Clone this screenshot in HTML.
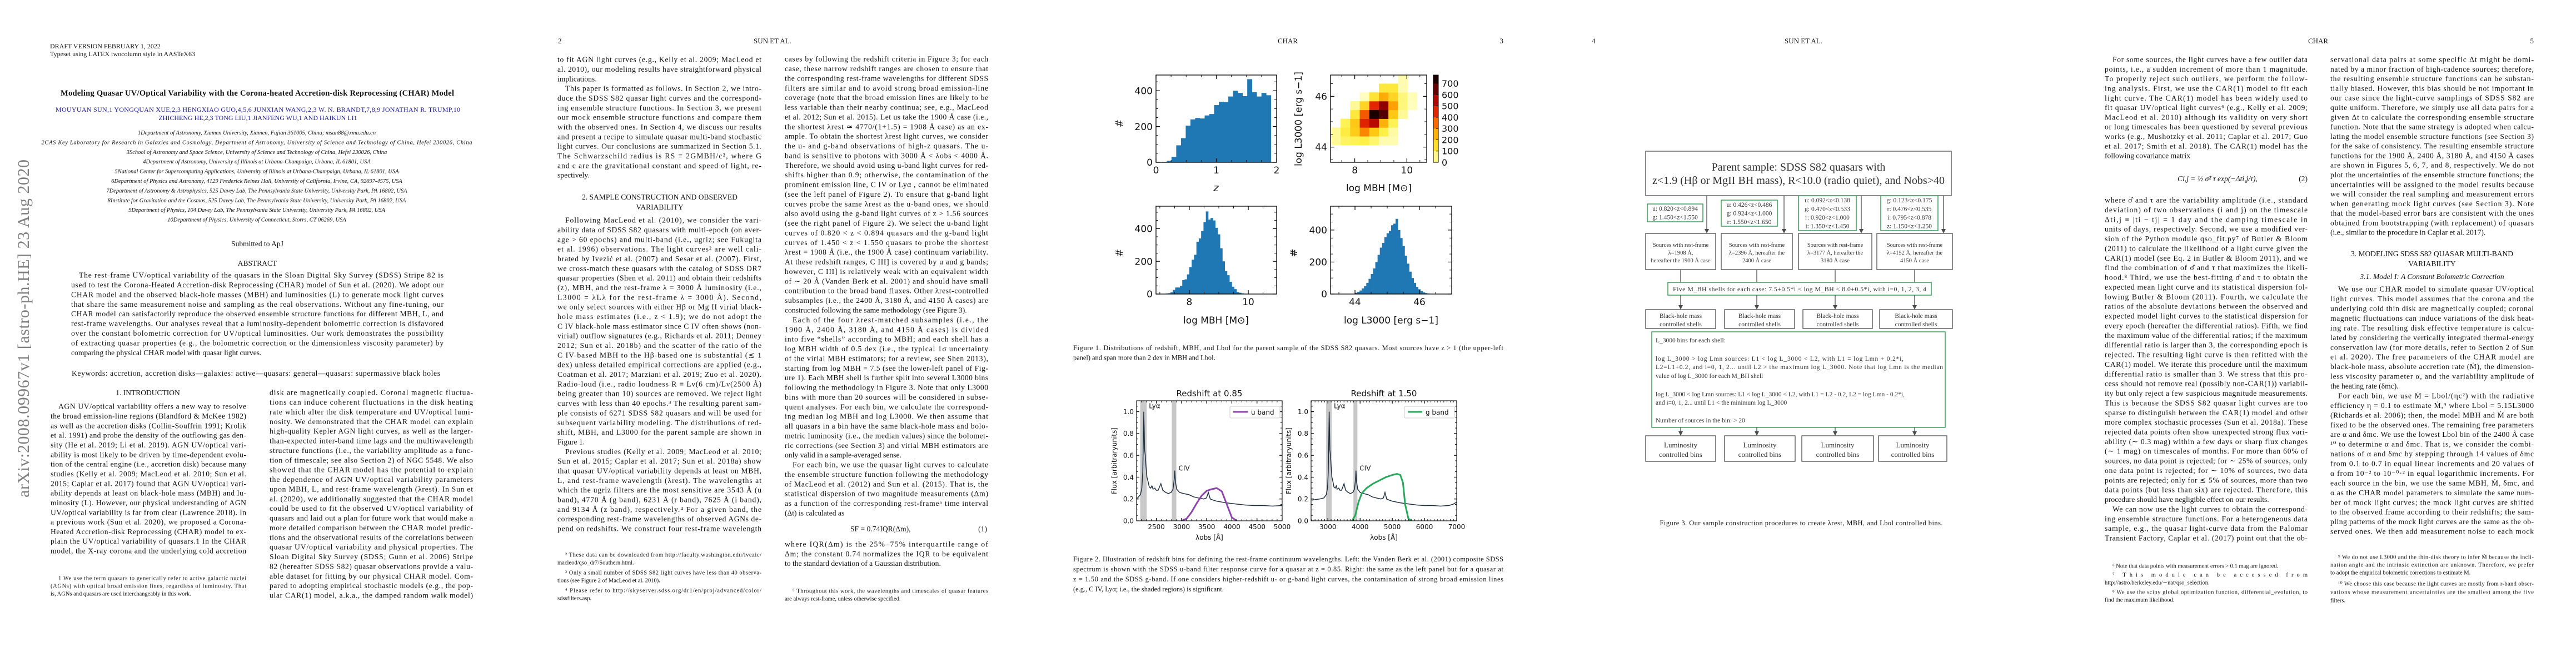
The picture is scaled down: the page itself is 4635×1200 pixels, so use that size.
<!DOCTYPE html>
<html><head><meta charset="utf-8"><title>CHAR paper pages</title>
<style>
html,body{margin:0;padding:0;background:#fff;}
svg{display:block;}
</style></head>
<body>
<svg id="page" xmlns="http://www.w3.org/2000/svg" width="4635" height="1200" viewBox="0 0 4635 1200">
<rect x="0" y="0" width="4635" height="1200" fill="#fff"/>
<defs>
<linearGradient id="cbar" x1="0" y1="1" x2="0" y2="0">
<stop offset="0" stop-color="#ffffcc"/><stop offset="0.15" stop-color="#ffed3c"/><stop offset="0.3" stop-color="#ffbe00"/><stop offset="0.45" stop-color="#ff6e00"/><stop offset="0.6" stop-color="#e61400"/><stop offset="0.8" stop-color="#8c0000"/><stop offset="1" stop-color="#140000"/>
</linearGradient>
</defs>
</svg>
<script>
// ---------- Figure 1 data ----------
const zStart = 0.1;
const zWidth = 0.0785;
const zCounts = [3,8,30,95,135,205,240,248,245,262,270,320,338,336,368,400,388,370,465,392,368,388,375];
const mbhStart = 7.2;
const mbhWidth = 0.08;
const mbhCounts = [3,5,10,25,40,40,50,85,90,120,165,210,240,320,340,385,440,505,455,465,450,405,365,280,200,140,115,75,45,30,12,8,4,2,1];
const lStart = 44.0;
const lWidth = 0.07;
const lCounts = [8,14,22,35,50,70,95,125,160,200,245,290,320,355,380,395,430,440,470,400,350,300,240,190,140,100,70,45,30,18,10,6,3,2];
const h2XStart = 7.09;
const h2XWidth = 0.367;
const h2YStart = 44.08;
const h2YWidth = 0.346;
const h2Counts = [
 [40,80,90,100,70,20,20,0,0],
 [40,110,190,320,200,100,30,0,0],
 [0,90,200,460,540,250,90,0,0],
 [0,0,120,370,750,680,200,40,0],
 [0,0,40,170,450,600,280,60,10],
 [0,0,0,10,130,260,170,60,15],
 [0,0,0,0,0,120,120,20,0],
 [0,0,0,0,0,0,0,20,0]
];
const cbarTicks = [0,100,200,300,400,500,600,700];
// ---------- Figure 2 data ----------
const specWave = [1000,1100,1150,1180,1195,1205,1211,1216,1220,1225,1232,1240,1250,1262,1275,1290,1304,1315,1335,1350,1370,1400,1420,1450,1480,1510,1530,1543,1549,1556,1570,1600,1640,1700,1750,1800,1860,1890,1909,1930,1960,2000,2100,2200,2300,2400,2500,2600,2700,2750,2798,2850];
const specFlux = [0.19,0.20,0.21,0.24,0.30,0.45,0.75,1.0,0.85,0.65,0.6,0.5,0.4,0.36,0.31,0.30,0.32,0.29,0.30,0.28,0.28,0.34,0.28,0.26,0.25,0.26,0.29,0.38,0.46,0.36,0.29,0.26,0.25,0.24,0.22,0.21,0.20,0.21,0.26,0.20,0.19,0.18,0.165,0.155,0.145,0.14,0.14,0.135,0.14,0.15,0.17,0.15];
const uWave = [3000,3100,3200,3300,3400,3500,3600,3700,3800,3900,4000,4100];
const uResp = [0,0.02,0.08,0.16,0.23,0.275,0.29,0.30,0.27,0.15,0.03,0];
const gWave = [3750,3850,3950,4050,4200,4400,4600,4800,5000,5150,5250,5330,5400,5500,5600];
const gResp = [0,0.05,0.17,0.25,0.30,0.34,0.37,0.40,0.42,0.43,0.42,0.35,0.15,0.02,0];
const lyaRange = [1178,1247];
const civRange = [1517,1566];
const specYTicks = [0.0,0.2,0.4,0.6,0.8,1.0];
const leftXTicks = [2500,3000,3500,4000,4500,5000];
const rightXTicks = [3000,4000,5000,6000,7000];

const NS = 'http://www.w3.org/2000/svg';
const root = document.getElementById('page');
const SERIF = '"Liberation Serif", "DejaVu Serif", serif';
const SANS = '"DejaVu Sans", "Liberation Sans", sans-serif';

function el(tag, parent){ const e = document.createElementNS(NS, tag); (parent||root).appendChild(e); return e; }
function grp(name, parent){
  const g = el('g', parent);
  
  
  return g;
}
function T(parent, x, y, s, size, name, o){
  o = o || {};
  const t = el('text', parent);
  
  
  t.setAttribute('x', x); t.setAttribute('y', y);
  t.setAttribute('font-size', size);
  t.setAttribute('font-family', o.font || SERIF);
  t.setAttribute('fill', o.fill || '#111');
  if (o.anchor) t.setAttribute('text-anchor', o.anchor);
  if (o.weight) t.setAttribute('font-weight', o.weight);
  if (o.style) t.setAttribute('font-style', o.style);
  if (o.sc) t.setAttribute('font-variant', 'small-caps');
  if (o.len) { t.setAttribute('textLength', o.len); t.setAttribute('lengthAdjust', 'spacing'); }
  if (o.rot) t.setAttribute('transform', 'rotate(' + o.rot + ' ' + x + ' ' + y + ')');
  t.textContent = s;
  return t;
}
function line(parent, x1, y1, x2, y2, stroke, w, name){
  const l = el('line', parent);
  
  
  l.setAttribute('x1', x1); l.setAttribute('y1', y1); l.setAttribute('x2', x2); l.setAttribute('y2', y2);
  l.setAttribute('stroke', stroke); l.setAttribute('stroke-width', w);
  return l;
}
function rect(parent, x, y, w, h, fill, stroke, sw, name){
  const r = el('rect', parent);
  
  
  r.setAttribute('x', x); r.setAttribute('y', y); r.setAttribute('width', w); r.setAttribute('height', h);
  r.setAttribute('fill', fill); if (stroke) { r.setAttribute('stroke', stroke); r.setAttribute('stroke-width', sw); }
  return r;
}
function column(parent, x, y0, w, lh, lines, size, name){
  const g = grp(name, parent);
  lines.forEach((ln, i) => {
    let ind = 0, last = false, s = ln;
    if (s.startsWith('>')) { ind = 14; s = s.slice(1); }
    if (s.endsWith('|')) { last = true; s = s.slice(0, -1); }
    const o = last ? {} : { len: w - ind };
    T(g, x + ind, y0 + i * lh + size * 0.34, s, size, 'text-line', o);
  });
  return g;
}

// ================= PAGE 1 =================
const p1 = grp('page-1');
T(p1, 90, 87, 'DRAFT VERSION FEBRUARY 1, 2022', 12, 'draft-header', {sc:true});
T(p1, 90, 101, 'Typeset using LATEX twocolumn style in AASTeX63', 12, 'typeset-note');
T(p1, 463, 172, 'Modeling Quasar UV/Optical Variability with the Corona-heated Accretion-disk Reprocessing (CHAR) Model', 14.5, 'paper-title', {anchor:'middle', weight:'bold', len:708});
T(p1, 464, 201, 'MOUYUAN SUN,1 YONGQUAN XUE,2,3 HENGXIAO GUO,4,5,6 JUNXIAN WANG,2,3 W. N. BRANDT,7,8,9 JONATHAN R. TRUMP,10', 12, 'author-list', {anchor:'middle', fill:'#1a1a9a', len:728});
T(p1, 464, 216, 'ZHICHENG HE,2,3 TONG LIU,1 JIANFENG WU,1 AND HAIKUN LI1', 12, 'author-list', {anchor:'middle', fill:'#1a1a9a'});
const affs = [
'1Department of Astronomy, Xiamen University, Xiamen, Fujian 361005, China; msun88@xmu.edu.cn',
'2CAS Key Laboratory for Research in Galaxies and Cosmology, Department of Astronomy, University of Science and Technology of China, Hefei 230026, China',
'3School of Astronomy and Space Science, University of Science and Technology of China, Hefei 230026, China',
'4Department of Astronomy, University of Illinois at Urbana-Champaign, Urbana, IL 61801, USA',
'5National Center for Supercomputing Applications, University of Illinois at Urbana-Champaign, Urbana, IL 61801, USA',
'6Department of Physics and Astronomy, 4129 Frederick Reines Hall, University of California, Irvine, CA, 92697-4575, USA',
'7Department of Astronomy & Astrophysics, 525 Davey Lab, The Pennsylvania State University, University Park, PA 16802, USA',
'8Institute for Gravitation and the Cosmos, 525 Davey Lab, The Pennsylvania State University, University Park, PA 16802, USA',
'9Department of Physics, 104 Davey Lab, The Pennsylvania State University, University Park, PA 16802, USA',
'10Department of Physics, University of Connecticut, Storrs, CT 06269, USA'];
const affG = grp('affiliations', p1);
affs.forEach((a, i) => { T(affG, 462, 242 + i * 17.4, a, 10.5, 'affiliation', {anchor:'middle', style:'italic', len: i===1 ? 775 : undefined}); });
T(p1, 463, 443, 'Submitted to ApJ', 13.5, 'submitted-note', {anchor:'middle'});
T(p1, 463, 478, 'ABSTRACT', 13.5, 'abstract-heading', {anchor:'middle'});
column(p1, 128, 495, 670, 17.4, [
'>The rest-frame UV/optical variability of the quasars in the Sloan Digital Sky Survey (SDSS) Stripe 82 is',
'used to test the Corona-Heated Accretion-disk Reprocessing (CHAR) model of Sun et al. (2020). We adopt our',
'CHAR model and the observed black-hole masses (MBH) and luminosities (L) to generate mock light curves',
'that share the same measurement noise and sampling as the real observations. Without any fine-tuning, our',
'CHAR model can satisfactorily reproduce the observed ensemble structure functions for different MBH, L, and',
'rest-frame wavelengths. Our analyses reveal that a luminosity-dependent bolometric correction is disfavored',
'over the constant bolometric correction for UV/optical luminosities. Our work demonstrates the possibility',
'of extracting quasar properties (e.g., the bolometric correction or the dimensionless viscosity parameter) by',
'comparing the physical CHAR model with quasar light curves.|'], 13.6, 'abstract-text');
T(p1, 129, 676, 'Keywords: accretion, accretion disks—galaxies: active—quasars: general—quasars: supermassive black holes', 13.6, 'keywords', {len:663});
T(p1, 266, 711, '1. INTRODUCTION', 13.5, 'section-heading', {anchor:'middle'});
column(p1, 91, 731, 352, 17.33, [
'>AGN UV/optical variability offers a new way to resolve',
'the broad emission-line regions (Blandford & McKee 1982)',
'as well as the accretion disks (Collin-Souffrin 1991; Krolik',
'et al. 1991) and probe the density of the outflowing gas den-',
'sity (He et al. 2019; Li et al. 2019). AGN UV/optical vari-',
'ability is most likely to be driven by time-dependent evolu-',
'tion of the central engine (i.e., accretion disk) because many',
'studies (Kelly et al. 2009; MacLeod et al. 2010; Sun et al.',
'2015; Caplar et al. 2017) found that AGN UV/optical vari-',
'ability depends at least on black-hole mass (MBH) and lu-',
'minosity (L). However, our physical understanding of AGN',
'UV/optical variability is far from clear (Lawrence 2018). In',
'a previous work (Sun et al. 2020), we proposed a Corona-',
'Heated Accretion-disk Reprocessing (CHAR) model to ex-',
'plain the UV/optical variability of quasars.1 In the CHAR',
'model, the X-ray corona and the underlying cold accretion'], 13.6, 'intro-left-column');
column(p1, 91, 1040, 352, 14, [
'>1 We use the term quasars to generically refer to active galactic nuclei',
'(AGNs) with optical broad emission lines, regardless of luminosity. That',
'is, AGNs and quasars are used interchangeably in this work.|'], 10.5, 'footnote-1');
column(p1, 485, 706, 366, 17.38, [
'disk are magnetically coupled. Coronal magnetic fluctua-',
'tions can induce coherent fluctuations in the disk heating',
'rate which alter the disk temperature and UV/optical lumi-',
'nosity. We demonstrated that the CHAR model can explain',
'high-quality Kepler AGN light curves, as well as the larger-',
'than-expected inter-band time lags and the multiwavelength',
'structure functions (i.e., the variability amplitude as a func-',
'tion of timescale; see also Section 2) of NGC 5548. We also',
'showed that the CHAR model has the potential to explain',
'the dependence of AGN UV/optical variability parameters',
'upon MBH, L, and rest-frame wavelength (λrest). In Sun et',
'al. (2020), we additionally suggested that the CHAR model',
'could be used to fit the observed UV/optical variability of',
'quasars and laid out a plan for future work that would make a',
'more detailed comparison between the CHAR model predic-',
'tions and the observational results of the correlations between',
'quasar UV/optical variability and physical properties. The',
'Sloan Digital Sky Survey (SDSS; Gunn et al. 2006) Stripe',
'82 (hereafter SDSS S82) quasar observations provide a valu-',
'able dataset for fitting by our physical CHAR model. Com-',
'pared to adopting empirical stochastic models (e.g., the pop-',
'ular CAR(1) model, a.k.a., the damped random walk model)'], 13.6, 'intro-right-column');
T(p1, 52, 895, 'arXiv:2008.09967v1  [astro-ph.HE]  23 Aug 2020', 30, 'arxiv-stamp', {rot:-90, fill:'#808080', len:608});

// ================= PAGE 2 =================
const p2 = grp('page-2');
T(p2, 1004, 78, '2', 13, 'page-number');
T(p2, 1390, 78, 'SUN ET AL.', 13, 'running-head', {anchor:'middle', sc:true});
column(p2, 1003, 107, 367, 17.33, [
'to fit AGN light curves (e.g., Kelly et al. 2009; MacLeod et',
'al. 2010), our modeling results have straightforward physical',
'implications.|',
'>This paper is formatted as follows. In Section 2, we intro-',
'duce the SDSS S82 quasar light curves and the correspond-',
'ing ensemble structure functions. In Section 3, we present',
'our mock ensemble structure functions and compare them',
'with the observed ones. In Section 4, we discuss our results',
'and present a recipe to simulate quasar multi-band stochastic',
'light curves. Our conclusions are summarized in Section 5.1.',
'The Schwarzschild radius is RS ≡ 2GMBH/c², where G',
'and c are the gravitational constant and speed of light, re-',
'spectively.|'], 13.6, 'page2-left-top');
T(p2, 1187, 359, '2. SAMPLE CONSTRUCTION AND OBSERVED', 13.5, 'section-heading', {anchor:'middle'});
T(p2, 1187, 377, 'VARIABILITY', 13.5, 'section-heading', {anchor:'middle'});
column(p2, 1003, 396, 367, 17.34, [
'>Following MacLeod et al. (2010), we consider the vari-',
'ability data of SDSS S82 quasars with multi-epoch (on aver-',
'age > 60 epochs) and multi-band (i.e., ugriz; see Fukugita',
'et al. 1996) observations. The light curves² are well cali-',
'brated by Ivezić et al. (2007) and Sesar et al. (2007). First,',
'we cross-match these quasars with the catalog of SDSS DR7',
'quasar properties (Shen et al. 2011) and obtain their redshifts',
'(z), MBH, and the rest-frame λ = 3000 Å luminosity (i.e.,',
'L3000 = λLλ for the rest-frame λ = 3000 Å). Second,',
'we only select sources with either Hβ or Mg II virial black-',
'hole mass estimates (i.e., z < 1.9); we do not adopt the',
'C IV black-hole mass estimator since C IV often shows (non-',
'virial) outflow signatures (e.g., Richards et al. 2011; Denney',
'2012; Sun et al. 2018b) and the scatter of the ratio of the',
'C IV-based MBH to the Hβ-based one is substantial (≲ 1',
'dex) unless detailed empirical corrections are applied (e.g.,',
'Coatman et al. 2017; Marziani et al. 2019; Zuo et al. 2020).',
'Radio-loud (i.e., radio loudness R ≡ Lν(6 cm)/Lν(2500 Å)',
'being greater than 10) sources are removed. We reject light',
'curves with less than 40 epochs.³ The resulting parent sam-',
'ple consists of 6271 SDSS S82 quasars and will be used for',
'subsequent variability modeling. The distributions of red-',
'shift, MBH, and L3000 for the parent sample are shown in',
'Figure 1.|',
'>Previous studies (Kelly et al. 2009; MacLeod et al. 2010;',
'Sun et al. 2015; Caplar et al. 2017; Sun et al. 2018a) show',
'that quasar UV/optical variability depends at least on MBH,',
'L, and rest-frame wavelength (λrest). The wavelengths at',
'which the ugriz filters are the most sensitive are 3543 Å (u',
'band), 4770 Å (g band), 6231 Å (r band), 7625 Å (i band),',
'and 9134 Å (z band), respectively.⁴ For a given band, the',
'corresponding rest-frame wavelengths of observed AGNs de-',
'pend on redshifts. We construct four rest-frame wavelength'], 13.6, 'page2-left-main');
const fn2 = grp('page2-footnotes', p2);
[['>² These data can be downloaded from http://faculty.washington.edu/ivezic/',998],
 ['macleod/qso_dr7/Southern.html.|',1012],
 ['>³ Only a small number of SDSS S82 light curves have less than 40 observa-',1030],
 ['tions (see Figure 2 of MacLeod et al. 2010).|',1044],
 ['>⁴ Please refer to http://skyserver.sdss.org/dr1/en/proj/advanced/color/',1062],
 ['sdssfilters.asp.|',1076]].forEach(f => column(fn2, 1003, f[1], 367, 14, [f[0]], 10.5, 'footnote'));
column(p2, 1412, 106, 366, 17.38, [
'cases by following the redshift criteria in Figure 3; for each',
'case, these narrow redshift ranges are chosen to ensure that',
'the corresponding rest-frame wavelengths for different SDSS',
'filters are similar and to avoid strong broad emission-line',
'coverage (note that the broad emission lines are likely to be',
'less variable than their nearby continua; see, e.g., MacLeod',
'et al. 2012; Sun et al. 2015). Let us take the 1900 Å case (i.e.,',
'the shortest λrest ≃ 4770/(1+1.5) = 1908 Å case) as an ex-',
'ample. To obtain the shortest λrest light curves, we consider',
'the u- and g-band observations of high-z quasars. The u-',
'band is sensitive to photons with 3000 Å < λobs < 4000 Å.',
'Therefore, we should avoid using u-band light curves for red-',
'shifts higher than 0.9; otherwise, the contamination of the',
'prominent emission line, C IV or Lyα , cannot be eliminated',
'(see the left panel of Figure 2). To ensure that g-band light',
'curves probe the same λrest as the u-band ones, we should',
'also avoid using the g-band light curves of z > 1.56 sources',
'(see the right panel of Figure 2). We select the u-band light',
'curves of 0.820 < z < 0.894 quasars and the g-band light',
'curves of 1.450 < z < 1.550 quasars to probe the shortest',
'λrest = 1908 Å (i.e., the 1900 Å case) continuum variability.',
'At these redshift ranges, C III] is covered by u and g bands;',
'however, C III] is relatively weak with an equivalent width',
'of ∼ 20 Å (Vanden Berk et al. 2001) and should have small',
'contribution to the broad band fluxes. Other λrest-controlled',
'subsamples (i.e., the 2400 Å, 3180 Å, and 4150 Å cases) are',
'constructed following the same methodology (see Figure 3).|',
'>Each of the four λrest-matched subsamples (i.e., the',
'1900 Å, 2400 Å, 3180 Å, and 4150 Å cases) is divided',
'into five “shells” according to MBH; and each shell has a',
'log MBH width of 0.5 dex (i.e., the typical 1σ uncertainty',
'of the virial MBH estimators; for a review, see Shen 2013),',
'starting from log MBH = 7.5 (see the lower-left panel of Fig-',
'ure 1). Each MBH shell is further split into several L3000 bins',
'following the methodology in Figure 3. Note that only L3000',
'bins with more than 20 sources will be considered in subse-',
'quent analyses. For each bin, we calculate the correspond-',
'ing median log MBH and log L3000. We then assume that',
'all quasars in a bin have the same black-hole mass and bolo-',
'metric luminosity (i.e., the median values) since the bolomet-',
'ric corrections (see Section 3) and virial MBH estimators are',
'only valid in a sample-averaged sense.|',
'>For each bin, we use the quasar light curves to calculate',
'the ensemble structure function following the methodology',
'of MacLeod et al. (2012) and Sun et al. (2015). That is, the',
'statistical dispersion of two magnitude measurements (Δm)',
'as a function of the corresponding rest-frame⁵ time interval',
'(Δt) is calculated as|'], 13.6, 'page2-right-column');
T(p2, 1530, 956, 'SF = 0.74IQR(Δm),', 13.6, 'equation-1');
T(p2, 1776, 956, '(1)', 13.6, 'equation-number', {anchor:'end'});
column(p2, 1412, 979, 366, 17.2, [
'where IQR(Δm) is the 25%–75% interquartile range of',
'Δm; the constant 0.74 normalizes the IQR to be equivalent',
'to the standard deviation of a Gaussian distribution.|'], 13.6, 'page2-right-end');
column(p2, 1412, 1063, 366, 14, [
'>⁵ Throughout this work, the wavelengths and timescales of quasar features',
'are always rest-frame, unless otherwise specified.|'], 10.5, 'footnote-5');

// ================= PAGE 3 =================
const p3 = grp('page-3');
T(p3, 2317, 78, 'CHAR', 13, 'running-head', {anchor:'middle'});
T(p3, 2705, 78, '3', 13, 'page-number', {anchor:'end'});

function makeAxes(parent, name, x0, y0, x1, y1, xlim, ylim){
  const g = grp(name, parent);
  const sx = v => x0 + (v - xlim[0]) / (xlim[1] - xlim[0]) * (x1 - x0);
  const sy = v => y1 - (v - ylim[0]) / (ylim[1] - ylim[0]) * (y1 - y0);
  return {g, sx, sy, x0, y0, x1, y1, xlim, ylim};
}
function frame(ax, lw){
  rect(ax.g, ax.x0, ax.y0, ax.x1 - ax.x0, ax.y1 - ax.y0, 'none', '#000', lw || 1.3, 'axes-frame');
}
function ticks(ax, major, minorStep, axis, fs, fmt, labelOffset, majLen, minLen){
  const g = grp(axis + '-axis', ax.g);
  const lim = axis === 'x' ? ax.xlim : ax.ylim;
  const start = Math.ceil(lim[0] / minorStep - 1e-9) * minorStep;
  for (let v = start; v <= lim[1] + 1e-9; v += minorStep) {
    if (axis === 'x') { const x = ax.sx(v); line(g, x, ax.y1, x, ax.y1 - minLen, '#000', 0.9, 'minor-tick'); line(g, x, ax.y0, x, ax.y0 + minLen, '#000', 0.9, 'minor-tick'); }
    else { const y = ax.sy(v); line(g, ax.x0, y, ax.x0 + minLen, y, '#000', 0.9, 'minor-tick'); line(g, ax.x1, y, ax.x1 - minLen, y, '#000', 0.9, 'minor-tick'); }
  }
  major.forEach(v => {
    if (axis === 'x') {
      const x = ax.sx(v);
      line(g, x, ax.y1, x, ax.y1 - majLen, '#000', 1.2, 'major-tick'); line(g, x, ax.y0, x, ax.y0 + majLen, '#000', 1.2, 'major-tick');
      T(g, x, ax.y1 + labelOffset, fmt(v), fs, 'tick-label', {anchor:'middle', font:SANS});
    } else {
      const y = ax.sy(v);
      line(g, ax.x0, y, ax.x0 + majLen, y, '#000', 1.2, 'major-tick'); line(g, ax.x1, y, ax.x1 - majLen, y, '#000', 1.2, 'major-tick');
      T(g, ax.x0 - labelOffset, y + fs * 0.36, fmt(v), fs, 'tick-label', {anchor:'end', font:SANS});
    }
  });
}
function hist(ax, start, width, counts, name){
  const g = grp(name, ax.g);
  counts.forEach((c, i) => {
    const a = start + i * width, b = a + width;
    const r = rect(g, ax.sx(a), ax.sy(c), ax.sx(b) - ax.sx(a) + 0.4, ax.sy(0) - ax.sy(c), '#1f77b4', null, 0, 'hist-bar');
    
  });
}
const f1 = grp('figure-1', p3);
const i0 = v => String(v);
const axZ = makeAxes(f1, 'redshift-histogram', 2080, 135, 2297, 292, [0,2], [0,488]);
hist(axZ, zStart, zWidth, zCounts, 'redshift-bars');
frame(axZ); ticks(axZ, [0,1,2], 0.25, 'x', 17, i0, 20, 7, 4); ticks(axZ, [0,200,400], 50, 'y', 17, i0, 6, 7, 4);
T(axZ.g, 2020, 222, '#', 18, 'y-axis-title', {anchor:'middle', font:SANS, rot:-90});
T(axZ.g, 2188, 344, 'z', 18, 'x-axis-title', {anchor:'middle', font:SANS, style:'italic'});
const ax2 = makeAxes(f1, 'mass-luminosity-2d-histogram', 2394, 135, 2567, 292, [7.07,10.76], [43.4,46.84]);
const vmax = 774;
function cmap(t){
  const st = [[0,[255,255,204]],[0.13,[255,240,70]],[0.26,[255,200,20]],[0.39,[255,150,0]],[0.52,[240,60,0]],[0.65,[210,15,0]],[0.78,[140,0,0]],[1,[10,0,0]]];
  t = Math.max(0, Math.min(1, t));
  for (let i = 1; i < st.length; i++) if (t <= st[i][0]) {
    const a = st[i-1], b = st[i], f = (t - a[0]) / (b[0] - a[0]);
    return 'rgb(' + a[1].map((c, k) => Math.round(c + (b[1][k] - c) * f)).join(',') + ')';
  }
  return 'rgb(10,0,0)';
}
const cells = grp('heatmap-cells', ax2.g);
h2Counts.forEach((row, r) => row.forEach((c, k) => {
  if (c <= 0) return;
  const xa = h2XStart + k * h2XWidth, ya = h2YStart + r * h2YWidth;
  const x = Math.max(ax2.sx(xa), ax2.x0), xr = Math.min(ax2.sx(xa + h2XWidth), ax2.x1);
  const y = Math.max(ax2.sy(ya + h2YWidth), ax2.y0);
  const cell = rect(cells, x, y, xr - x + 0.3, ax2.sy(ya) - y + 0.3, cmap(c / vmax), null, 0, 'heatmap-cell');
  
}));
frame(ax2); ticks(ax2, [8,10], 0.5, 'x', 17, i0, 20, 7, 4); ticks(ax2, [44,46], 0.5, 'y', 17, i0, 6, 7, 4);
T(ax2.g, 2342, 214, 'log L3000 [erg s−1]', 17, 'y-axis-title', {anchor:'middle', font:SANS, rot:-90});
T(ax2.g, 2481, 344, 'log MBH [M⊙]', 17, 'x-axis-title', {anchor:'middle', font:SANS});
const cb = grp('colorbar', f1);
const cbSeg = grp('colorbar-segments', cb);
for (let k = 0; k < 8; k++) {
  const v0 = k * 100, v1 = Math.min((k + 1) * 100, vmax);
  rect(cbSeg, 2579, 292 - v1 / vmax * 157, 9, (v1 - v0) / vmax * 157 + 0.3, cmap((v0 + 50) / vmax), null, 0, 'colorbar-segment');
}
rect(cb, 2579, 135, 9, 157, 'none', '#000', 1, 'colorbar-frame');
cbarTicks.forEach(v => {
  const y = 292 - v / vmax * 157;
  line(cb, 2588, y, 2584, y, '#000', 1, 'colorbar-tick');
  T(cb, 2594, y + 6, String(v), 16, 'colorbar-label', {font:SANS});
});
const axM = makeAxes(f1, 'black-hole-mass-histogram', 2080, 371, 2297, 529, [6.87,10.96], [0,537]);
hist(axM, mbhStart, mbhWidth, mbhCounts, 'mass-bars');
frame(axM); ticks(axM, [8,10], 0.5, 'x', 17, i0, 20, 7, 4); ticks(axM, [0,200,400], 50, 'y', 17, i0, 6, 7, 4);
T(axM.g, 2020, 455, '#', 18, 'y-axis-title', {anchor:'middle', font:SANS, rot:-90});
T(axM.g, 2188, 582, 'log MBH [M⊙]', 17, 'x-axis-title', {anchor:'middle', font:SANS});
const axL = makeAxes(f1, 'luminosity-histogram', 2394, 371, 2612, 529, [43.24,47.0], [0,549]);
hist(axL, lStart, lWidth, lCounts, 'luminosity-bars');
frame(axL); ticks(axL, [44,46], 0.5, 'x', 17, i0, 20, 7, 4); ticks(axL, [0,200,400], 50, 'y', 17, i0, 6, 7, 4);
T(axL.g, 2334, 455, '#', 18, 'y-axis-title', {anchor:'middle', font:SANS, rot:-90});
T(axL.g, 2503, 582, 'log L3000 [erg s−1]', 17, 'x-axis-title', {anchor:'middle', font:SANS});
column(p3, 1931, 626, 774, 17.5, [
'Figure 1. Distributions of redshift, MBH, and Lbol for the parent sample of the SDSS S82 quasars. Most sources have z > 1 (the upper-left',
'panel) and span more than 2 dex in MBH and Lbol.|'], 12.4, 'figure-1-caption');

const f2 = grp('figure-2', p3);
function spectrumPanel(name, x0, x1, z, xlim, xt, bandW, bandR, color, label, title, ylabx){
  const ax = makeAxes(f2, name, x0, 721, x1, 937, xlim, [0,1.1]);
  const cp = el('clipPath', ax.g); cp.setAttribute('id', 'clip-' + name);
  const cr = el('rect', cp); cr.setAttribute('x', x0); cr.setAttribute('y', 721); cr.setAttribute('width', x1 - x0); cr.setAttribute('height', 216);
  const inner = grp('plot-area', ax.g); inner.setAttribute('clip-path', 'url(#clip-' + name + ')');
  [lyaRange, civRange].forEach(rg => {
    const a = ax.sx(rg[0] * (1 + z)), b = ax.sx(rg[1] * (1 + z));
    rect(inner, a, 721, b - a, 216, '#c8c8c8', null, 0, 'shaded-emission-region');
  });
  const sp = el('polyline', inner);
  
  
  sp.setAttribute('points', specWave.map((w, i) => ax.sx(w * (1 + z)).toFixed(1) + ',' + ax.sy(specFlux[i]).toFixed(1)).join(' '));
  sp.setAttribute('fill', 'none'); sp.setAttribute('stroke', '#1e2f42'); sp.setAttribute('stroke-width', 1.5);
  const fc = el('polyline', inner);
  
  
  fc.setAttribute('points', bandW.map((w, i) => ax.sx(w).toFixed(1) + ',' + ax.sy(bandR[i]).toFixed(1)).join(' '));
  fc.setAttribute('fill', 'none'); fc.setAttribute('stroke', color); fc.setAttribute('stroke-width', 3); fc.setAttribute('stroke-linejoin', 'round');
  frame(ax, 1.1);
  ticks(ax, xt, 100, 'x', 12, i0, 15, 5, 3);
  ticks(ax, specYTicks, 0.05, 'y', 12, v => v.toFixed(1), 5, 5, 3);
  T(ax.g, ax.sx(lyaRange[1] * (1 + z)) + 4, ax.sy(1.03), 'Lyα', 12, 'line-label', {font:SANS});
  T(ax.g, ax.sx(civRange[1] * (1 + z)) + 4, ax.sy(0.46), 'CIV', 12, 'line-label', {font:SANS});
  T(ax.g, (x0 + x1) / 2, 713, title, 15, 'panel-title', {anchor:'middle', font:SANS});
  T(ax.g, (x0 + x1) / 2, 971, 'λobs [Å]', 12, 'x-axis-title', {anchor:'middle', font:SANS});
  T(ax.g, ylabx, 829, 'Flux [arbitraryunits]', 12, 'y-axis-title', {anchor:'middle', font:SANS, rot:-90});
  const lg = grp('legend', ax.g);
  const r = rect(lg, x1 - 94, 731, 90, 21, '#fff', '#ccc', 1, 'legend-box'); r.setAttribute('rx', 2);
  line(lg, x1 - 88, 741, x1 - 62, 741, color, 3, 'legend-swatch');
  T(lg, x1 - 56, 746, label, 12, 'legend-label', {font:SANS});
}
spectrumPanel('spectrum-z085', 2045, 2307, 0.85, [2106,5000], leftXTicks, uWave, uResp, '#8e44ad', 'u band', 'Redshift at 0.85', 2009);
spectrumPanel('spectrum-z150', 2359, 2621, 1.50, [2477,7000], rightXTicks, gWave, gResp, '#27a85a', 'g band', 'Redshift at 1.50', 2323);
column(p3, 1931, 1006, 774, 18, [
'Figure 2. Illustration of redshift bins for defining the rest-frame continuum wavelengths. Left: the Vanden Berk et al. (2001) composite SDSS',
'spectrum is shown with the SDSS u-band filter response curve for a quasar at z = 0.85. Right: the same as the left panel but for a quasar at',
'z = 1.50 and the SDSS g-band. If one considers higher-redshift u- or g-band light curves, the contamination of strong broad emission lines',
'(e.g., C IV, Lyα; i.e., the shaded regions) is significant.|'], 12.4, 'figure-2-caption');

// ================= PAGE 4 =================
const p4 = grp('page-4');
T(p4, 2864, 78, '4', 13, 'page-number');
T(p4, 3245, 78, 'SUN ET AL.', 13, 'running-head', {anchor:'middle', sc:true});
const fc3 = grp('figure-3-flowchart', p4);
const GRAY = '#4a4a4a', GREEN = '#3c9a5c';
function arrow(x, y1, y2){
  line(fc3, x, y1, x, y2 - 6, GRAY, 1.3, 'arrow-shaft');
  const p = el('polygon', fc3);
  
  
  p.setAttribute('points', (x-4) + ',' + (y2-8) + ' ' + (x+4) + ',' + (y2-8) + ' ' + x + ',' + y2);
  p.setAttribute('fill', GRAY);
}
function boxText(lines, cx, y0, lh, fs, name, anchor, len){
  lines.forEach((s, i) => T(fc3, cx, y0 + i * lh, s, fs, name, {anchor: anchor || 'middle', fill:'#333', len: len ? len[i] : undefined}));
}
rect(fc3, 2961, 272, 550, 80, '#fff', GRAY, 1.3, 'parent-sample-box');
boxText(['Parent sample: SDSS S82 quasars with'], 3236, 307, 24, 20, 'parent-sample-text');
boxText(['z<1.9 (Hβ or MgII BH mass), R<10.0 (radio quiet), and Nobs>40'], 3236, 331, 24, 20, 'parent-sample-text', 'middle', [526]);
[3071,3210,3349,3497].forEach(x => arrow(x, 352, 420));
const greens = [[2964,367,100,32,['u: 0.820<z<0.894','g: 1.450<z<1.550']],[3097,360,101,47,['u: 0.426<z<0.486','g: 0.924<z<1.000','r: 1.550<z<1.650']],[3236,352,104,63,['u: 0.092<z<0.138','g: 0.470<z<0.533','r: 0.920<z<1.000','i: 1.350<z<1.450']],[3384,352,103,63,['g: 0.123<z<0.175','r: 0.476<z<0.535','i: 0.795<z<0.878','z: 1.150<z<1.250']]];
greens.forEach(b => { rect(fc3, b[0], b[1], b[2], b[3], '#fff', GREEN, 1.5, 'redshift-range-box'); boxText(b[4], b[0] + b[2]/2, b[1] + 12, 15.5, 11.5, 'redshift-range-text'); });
const srcs = [[2961,126],[3097,128],[3236,132],[3377,136]];
const srcLines = [['Sources with rest-frame','λ=1908 Å,','hereafter the 1900 Å case'],['Sources with rest-frame','λ=2396 Å, hereafter the','2400 Å case'],['Sources with rest-frame','λ=3177 Å, hereafter the','3180 Å case'],['Sources with rest-frame','λ=4152 Å, hereafter the','4150 Å case']];
srcs.forEach((b, i) => { rect(fc3, b[0], 420, b[1], 65, '#fff', GRAY, 1.3, 'rest-frame-box'); boxText(srcLines[i], b[0] + b[1]/2, 444, 14, 10.5, 'rest-frame-text'); });
[3024,3161,3302,3445].forEach(x => line(fc3, x, 485, x, 508, GRAY, 1.3, 'connector'));
rect(fc3, 3001, 508, 474, 23, '#fff', GREEN, 1.5, 'mass-shell-rule-box');
boxText(['Five M_BH shells for each case: 7.5+0.5*i < log M_BH < 8.0+0.5*i, with i=0, 1, 2, 3, 4'], 3238, 524, 14, 12, 'mass-shell-rule-text', 'middle', [456]);
[3024,3161,3302,3445].forEach(x => arrow(x, 531, 557));
[[2961,126],[3103,126],[3244,125],[3382,131]].forEach(b => { rect(fc3, b[0], 557, b[1], 34, '#fff', GRAY, 1.3, 'mass-shell-box'); boxText(['Black-hole mass','controlled shells'], b[0] + b[1]/2, 572, 15, 11.5, 'mass-shell-text'); });
rect(fc3, 2972, 597, 528, 172, '#fff', GREEN, 1.5, 'luminosity-bin-rule-box');
const big = [['L_3000 bins for each shell:',616],['log L_3000 > log Lmn sources: L1 < log L_3000 < L2, with L1 = log Lmn + 0.2*i,',649],['L2=L1+0.2, and i=0, 1, 2... until L2 > the maximum log L_3000. Note that log Lmn is the median',664],['value of log L_3000 for each M_BH shell',680],['log L_3000 < log Lmn sources: L1 < log L_3000 < L2, with L1 = L2 - 0.2, L2 = log Lmn - 0.2*i,',713],['and i=0, 1, 2... until L1 < the minimum log L_3000',728],['Number of sources in the bin: > 20',760]];
big.forEach((b, i) => T(fc3, 2979, b[1], b[0], 11.5, 'luminosity-bin-rule-text', {fill:'#333', len: (i===2) ? 517 : (i===1 ? 446 : (i===4 ? 448 : undefined))}));
[3024,3161,3302,3445].forEach(x => arrow(x, 769, 784));
[[2961,126],[3103,127],[3242,129],[3380,123]].forEach(b => { rect(fc3, b[0], 784, b[1], 46, '#fff', GRAY, 1.3, 'luminosity-bin-box'); boxText(['Luminosity','controlled bins'], b[0] + b[1]/2, 805, 17, 13, 'luminosity-bin-text'); });
T(p4, 3241, 945, 'Figure 3. Our sample construction procedures to create λrest, MBH, and Lbol controlled bins.', 12.4, 'figure-3-caption', {anchor:'middle', len:509});

// ================= PAGE 5 =================
const p5 = grp('page-5');
T(p5, 4171, 78, 'CHAR', 13, 'running-head', {anchor:'middle'});
T(p5, 4559, 78, '5', 13, 'page-number', {anchor:'end'});
column(p5, 3787, 107, 365, 17.3, [
'>For some sources, the light curves have a few outlier data',
'points, i.e., a sudden increment of more than 1 magnitude.',
'To properly reject such outliers, we perform the follow-',
'ing analysis. First, we use the CAR(1) model to fit each',
'light curve. The CAR(1) model has been widely used to',
'fit quasar UV/optical light curves⁶ (e.g., Kelly et al. 2009;',
'MacLeod et al. 2010) although its validity on very short',
'or long timescales has been questioned by several previous',
'works (e.g., Mushotzky et al. 2011; Caplar et al. 2017; Guo',
'et al. 2017; Smith et al. 2018). The CAR(1) model has the',
'following covariance matrix|'], 13.6, 'page5-left-top');
T(p5, 3918, 326, 'Ci,j = ½ σ̂² τ exp(−Δti,j/τ),', 13.6, 'equation-2', {style:'italic'});
T(p5, 4152, 326, '(2)', 13.6, 'equation-number', {anchor:'end'});
column(p5, 3787, 360, 365, 17.37, [
'where σ̂ and τ are the variability amplitude (i.e., standard',
'deviation) of two observations (i and j) on the timescale',
'Δti,j ≡ |ti − tj| = 1 day and the damping timescale in',
'units of days, respectively. Second, we use a modified ver-',
'sion of the Python module qso_fit.py⁷ of Butler & Bloom',
'(2011) to calculate the likelihood of a light curve given the',
'CAR(1) model (see Eq. 2 in Butler & Bloom 2011), and we',
'find the combination of σ̂ and τ that maximizes the likeli-',
'hood.⁸ Third, we use the best-fitting σ̂ and τ to obtain the',
'expected mean light curve and its statistical dispersion fol-',
'lowing Butler & Bloom (2011). Fourth, we calculate the',
'ratios of the absolute deviations between the observed and',
'expected model light curves to the statistical dispersion for',
'every epoch (hereafter the differential ratios). Fifth, we find',
'the maximum value of the differential ratios; if the maximum',
'differential ratio is larger than 3, the corresponding epoch is',
'rejected. The resulting light curve is then refitted with the',
'CAR(1) model. We iterate this procedure until the maximum',
'differential ratio is smaller than 3. We stress that this pro-',
'cess should not remove real (possibly non-CAR(1)) variabil-',
'ity but only reject a few suspicious magnitude measurements.',
'This is because the SDSS S82 quasar light curves are too',
'sparse to distinguish between the CAR(1) model and other',
'more complex stochastic processes (Sun et al. 2018a). These',
'rejected data points often show unexpected strong flux vari-',
'ability (∼ 0.3 mag) within a few days or sharp flux changes',
'(∼ 1 mag) on timescales of months. For more than 60% of',
'sources, no data point is rejected; for ∼ 25% of sources, only',
'one data point is rejected; for ∼ 10% of sources, two data',
'points are rejected; only for ≲ 5% of sources, more than two',
'data points (but less than six) are rejected. Therefore, this',
'procedure should have negligible effect on our results.|',
'>We can now use the light curves to obtain the correspond-',
'ing ensemble structure functions. For a heterogeneous data',
'sample, e.g., the quasar light-curve data from the Palomar',
'Transient Factory, Caplar et al. (2017) point out that the ob-'], 13.6, 'page5-left-main');
const fn5 = grp('page5-left-footnotes', p5);
[['>⁶ Note that data points with measurement errors > 0.1 mag are ignored.|',1018],
 ['>⁷ This module can be accessed from',1034],
 ['http://astro.berkeley.edu/∼nat/qso_selection.|',1048],
 ['>⁸ We use the scipy global optimization function, differential_evolution, to',1065],
 ['find the maximum likelihood.|',1079]].forEach(f => column(fn5, 3787, f[1], 365, 14, [f[0]], 10.5, 'footnote'));
column(p5, 4193, 107, 366, 17.28, [
'servational data pairs at some specific Δt might be domi-',
'nated by a minor fraction of high-cadence sources; therefore,',
'the resulting ensemble structure functions can be substan-',
'tially biased. However, this bias should be not important in',
'our case since the light-curve samplings of SDSS S82 are',
'quite uniform. Therefore, we simply use all data pairs for a',
'given Δt to calculate the corresponding ensemble structure',
'function. Note that the same strategy is adopted when calcu-',
'lating the model ensemble structure functions (see Section 3)',
'for the sake of consistency. The resulting ensemble structure',
'functions for the 1900 Å, 2400 Å, 3180 Å, and 4150 Å cases',
'are shown in Figures 5, 6, 7, and 8, respectively. We do not',
'plot the uncertainties of the ensemble structure functions; the',
'uncertainties will be assigned to the model results because',
'we will consider the real sampling and measurement errors',
'when generating mock light curves (see Section 3). Note',
'that the model-based error bars are consistent with the ones',
'obtained from bootstrapping (with replacement) of quasars',
'(i.e., similar to the procedure in Caplar et al. 2017).|'], 13.6, 'page5-right-top');
T(p5, 4376, 461, '3. MODELING SDSS S82 QUASAR MULTI-BAND', 13.5, 'section-heading', {anchor:'middle'});
T(p5, 4376, 479, 'VARIABILITY', 13.5, 'section-heading', {anchor:'middle'});
T(p5, 4376, 502, '3.1. Model I: A Constant Bolometric Correction', 13.5, 'subsection-heading', {anchor:'middle', style:'italic'});
column(p5, 4193, 520, 366, 17.44, [
'>We use our CHAR model to simulate quasar UV/optical',
'light curves. This model assumes that the corona and the',
'underlying cold thin disk are magnetically coupled; coronal',
'magnetic fluctuations can induce variations of the disk heat-',
'ing rate. The resulting disk effective temperature is calcu-',
'lated by considering the vertically integrated thermal-energy',
'conservation law (for more details, refer to Section 2 of Sun',
'et al. 2020). The free parameters of the CHAR model are',
'black-hole mass, absolute accretion rate (Ṁ), the dimension-',
'less viscosity parameter α, and the variability amplitude of',
'the heating rate (δmc).|',
'>For each bin, we use Ṁ = Lbol/(ηc²) with the radiative',
'efficiency η = 0.1 to estimate Ṁ,⁹ where Lbol = 5.15L3000',
'(Richards et al. 2006); then, the model MBH and Ṁ are both',
'fixed to be the observed ones. The remaining free parameters',
'are α and δmc. We use the lowest Lbol bin of the 2400 Å case',
'¹⁰ to determine α and δmc. That is, we consider the combi-',
'nations of α and δmc by stepping through 14 values of δmc',
'from 0.1 to 0.7 in equal linear increments and 20 values of',
'α from 10⁻² to 10⁻⁰·² in equal logarithmic increments. For',
'each source in the bin, we use the same MBH, Ṁ, δmc, and',
'α as the CHAR model parameters to simulate the same num-',
'ber of mock light curves; the mock light curves are shifted',
'to the observed frame according to their redshifts; the sam-',
'pling patterns of the mock light curves are the same as the ob-',
'served ones. We then add measurement noise to each mock'], 13.6, 'page5-right-main');
const fn6 = grp('page5-right-footnotes', p5);
[['>⁹ We do not use L3000 and the thin-disk theory to infer Ṁ because the incli-',1002],
 ['nation angle and the intrinsic extinction are unknown. Therefore, we prefer',1016],
 ['to adopt the empirical bolometric corrections to estimate Ṁ.|',1030],
 ['>¹⁰ We choose this case because the light curves are mostly from r-band obser-',1050],
 ['vations whose measurement uncertainties are the smallest among the five',1065],
 ['filters.|',1080]].forEach(f => column(fn6, 4193, f[1], 366, 14, [f[0]], 10.5, 'footnote'));
</script>
</body></html>
